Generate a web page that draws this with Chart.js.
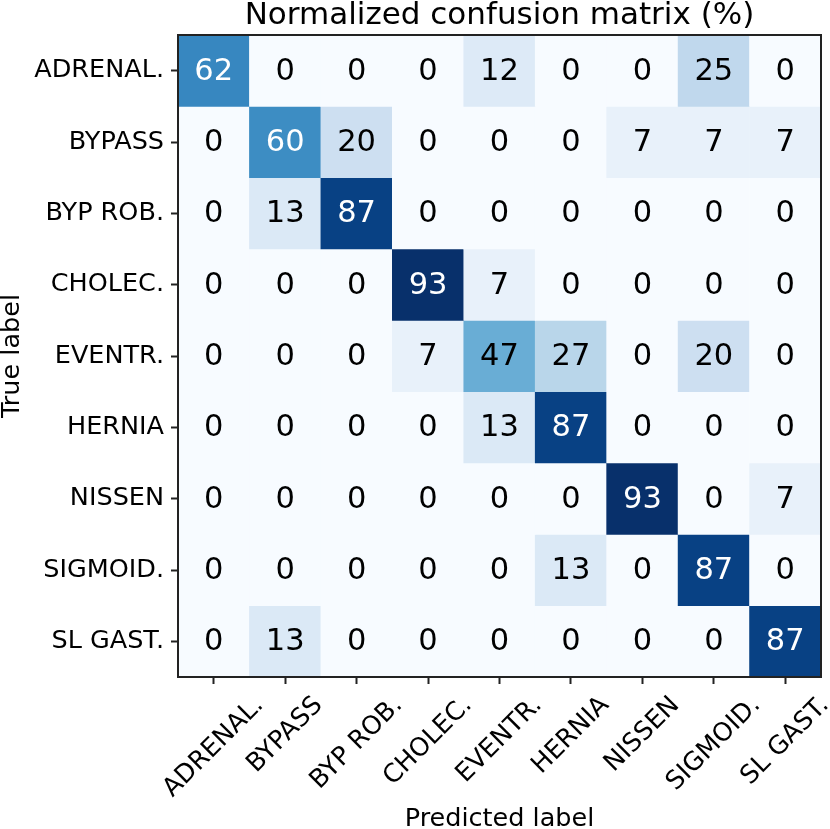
<!DOCTYPE html>
<html>
<head>
<meta charset="utf-8">
<script src="https://cdn.jsdelivr.net/npm/chart.js@4/dist/chart.umd.min.js"></script>
<style>
  body { margin: 0; background: #fff; }
  #wrap { width: 830px; height: 829px; }
</style>
</head>
<body>
<div id="wrap"><canvas id="cm"></canvas></div>
<script>
const predLabels = ["ADRENAL.", "BYPASS", "BYP ROB.", "CHOLEC.", "EVENTR.", "HERNIA", "NISSEN", "SIGMOID.", "SL GAST."];
const trueLabels = ["ADRENAL.", "BYPASS", "BYP ROB.", "CHOLEC.", "EVENTR.", "HERNIA", "NISSEN", "SIGMOID.", "SL GAST."];

// rows = true label, columns = predicted label (%)
const rowAdrenal = [62, 0, 0, 0, 12, 0, 0, 25, 0];
const rowBypass  = [0, 60, 20, 0, 0, 0, 7, 7, 7];
const rowBypRob  = [0, 13, 87, 0, 0, 0, 0, 0, 0];
const rowCholec  = [0, 0, 0, 93, 7, 0, 0, 0, 0];
const rowEventr  = [0, 0, 0, 7, 47, 27, 0, 20, 0];
const rowHernia  = [0, 0, 0, 0, 13, 87, 0, 0, 0];
const rowNissen  = [0, 0, 0, 0, 0, 0, 93, 0, 7];
const rowSigmoid = [0, 0, 0, 0, 0, 13, 0, 87, 0];
const rowSlGast  = [0, 13, 0, 0, 0, 0, 0, 0, 87];
const matrix = [rowAdrenal, rowBypass, rowBypRob, rowCholec, rowEventr, rowHernia, rowNissen, rowSigmoid, rowSlGast];

const textThreshold = 50;
const FONT = '"DejaVu Sans", sans-serif';

// matplotlib "Blues"
const blues = [
  [247, 251, 255], [222, 235, 247], [198, 219, 239], [158, 202, 225], [107, 174, 214],
  [66, 146, 198], [33, 113, 181], [8, 81, 156], [8, 48, 107]
];
const vmax = Math.max(...matrix.flat());

function bluesColor(v) {
  const t = Math.min(Math.max(v / vmax, 0), 1) * (blues.length - 1);
  const i = Math.min(Math.floor(t), blues.length - 2);
  const f = t - i;
  const c = blues[i].map((a, k) => Math.round(a + (blues[i + 1][k] - a) * f));
  return `rgb(${c[0]}, ${c[1]}, ${c[2]})`;
}

const datasets = matrix.map((row, r) => ({
  label: trueLabels[r],
  data: row.map(() => [r - 0.5, r + 0.5]),
  backgroundColor: row.map(bluesColor),
  borderWidth: 0,
  borderSkipped: false,
  barPercentage: 1,
  categoryPercentage: 1,
  grouped: false
}));

const cellText = {
  id: "cellText",
  afterDatasetsDraw(chart) {
    const ctx = chart.ctx;
    ctx.save();
    ctx.font = `30.5px ${FONT}`;
    ctx.textAlign = "center";
    ctx.textBaseline = "middle";
    matrix.forEach((row, r) => {
      chart.getDatasetMeta(r).data.forEach((bar, c) => {
        const v = row[c];
        ctx.fillStyle = v > textThreshold ? "#ffffff" : "#000000";
        ctx.fillText(String(v), bar.x, (bar.y + bar.base) / 2 + 1);
      });
    });
    ctx.restore();
  },
  afterDraw(chart) {
    const ctx = chart.ctx;
    const area = chart.chartArea;
    ctx.save();
    // frame
    ctx.strokeStyle = "#222";
    ctx.lineWidth = 2;
    ctx.strokeRect(area.left, area.top, area.right - area.left, area.bottom - area.top);

    // title, centred on the plot
    ctx.fillStyle = "#000";
    ctx.font = `31px ${FONT}`;
    ctx.textAlign = "center";
    ctx.textBaseline = "alphabetic";
    ctx.fillText("Normalized confusion matrix (%)", (area.left + area.right) / 2, 24);

    // rotated x tick labels, centred on their tick
    const xs = chart.scales.x;
    ctx.font = `25.5px ${FONT}`;
    ctx.textBaseline = "middle";
    const hh = 29;
    predLabels.forEach((lab, i) => {
      const w = ctx.measureText(lab).width;
      const half = (w + hh) * Math.SQRT1_2 / 2;
      ctx.save();
      ctx.translate(xs.getPixelForTick(i), area.bottom + 14 + half);
      ctx.rotate(-Math.PI / 4);
      ctx.fillText(lab, 0, 0);
      ctx.restore();
    });
    ctx.restore();
  }
};

new Chart(document.getElementById("cm"), {
  type: "bar",
  data: { labels: predLabels, datasets: datasets },
  options: {
    responsive: true,
    maintainAspectRatio: false,
    animation: false,
    layout: { padding: { top: 35, right: 9, left: 0, bottom: 0 } },
    plugins: {
      legend: { display: false },
      tooltip: { enabled: false }
    },
    scales: {
      x: {
        type: "category",
        offset: true,
        grid: { offset: false, drawOnChartArea: false, drawTicks: true, tickLength: 7, tickColor: "#222", tickWidth: 2 },
        border: { display: true, color: "#222", width: 2 },
        ticks: { display: false },
        title: { display: true, text: "Predicted label", color: "#000", font: { family: FONT, size: 25.5, lineHeight: 0.75 }, padding: { top: 0, bottom: 0 } },
        afterFit(scale) { scale.height = 152; }
      },
      y: {
        type: "linear",
        reverse: true,
        min: -0.5,
        max: 8.5,
        afterBuildTicks(axis) { axis.ticks = trueLabels.map((_, i) => ({ value: i })); },
        grid: { drawOnChartArea: false, drawTicks: true, tickLength: 7, tickColor: "#222", tickWidth: 2 },
        border: { display: true, color: "#222", width: 2 },
        ticks: {
          color: "#000",
          padding: 7,
          font: { family: FONT, size: 25.5 },
          callback: (value) => trueLabels[value]
        },
        title: { display: true, text: "True label", color: "#000", font: { family: FONT, size: 25.5, lineHeight: 1 }, padding: { top: 0, bottom: 0 } },
        afterFit(scale) { scale.width = 178; }
      }
    }
  },
  plugins: [cellText]
});
</script>
</body>
</html>
